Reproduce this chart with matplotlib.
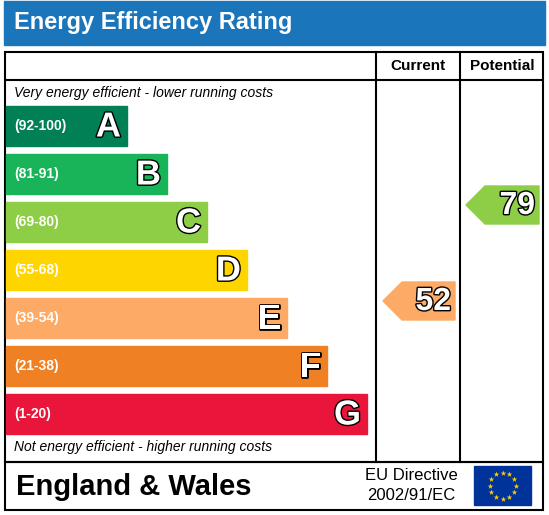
import matplotlib.pyplot as plt
from matplotlib.patches import Rectangle, Polygon
import matplotlib.patheffects as pe
import numpy as np

plt.rcParams['font.family'] = ['Liberation Sans', 'DejaVu Sans']

bandas = ['(92-100)', '(81-91)', '(69-80)', '(55-68)', '(39-54)', '(21-38)', '(1-20)']
letras = ['A', 'B', 'C', 'D', 'E', 'F', 'G']
colores = ['#008054', '#19b459', '#8dce46', '#ffd500', '#fcaa65', '#ef8023', '#e9153b']
largos = [127, 167, 207, 247, 287, 327, 367]
actual = 52
potencial = 79

def fila(valor):
    # indice de la banda segun el valor
    limites = [92, 81, 69, 55, 39, 21, 1]
    for i, l in enumerate(limites):
        if valor >= l:
            return i
    return 6

fig = plt.figure(figsize=(5.49, 5.15), dpi=100)
ax = fig.add_axes([0, 0, 1, 1])
ax.set_xlim(0, 549)
ax.set_ylim(515, 0)
ax.axis('off')

# titulo
ax.add_patch(Rectangle((4, 1), 541, 44, color='#1a75bb'))
ax.text(14, 23, 'Energy Efficiency Rating', color='white', fontsize=17, fontweight='bold', va='center')

# marco
ax.add_patch(Rectangle((5, 52), 538, 410, fill=False, lw=1.5, ec='black'))
ax.add_patch(Rectangle((5, 462), 538, 48, fill=False, lw=1.5, ec='black'))
ax.plot([5, 543], [80, 80], color='black', lw=1.5)
ax.plot([376, 376], [52, 462], color='black', lw=1.5)
ax.plot([460, 460], [52, 462], color='black', lw=1.5)
ax.text(418, 66, 'Current', ha='center', va='center', fontsize=11, fontweight='bold')
ax.text(502, 66, 'Potential', ha='center', va='center', fontsize=11, fontweight='bold')

ax.text(14, 93, 'Very energy efficient - lower running costs', fontsize=10, style='italic', va='center')
ax.text(14, 447, 'Not energy efficient - higher running costs', fontsize=10, style='italic', va='center')

borde = [pe.withStroke(linewidth=2, foreground='black')]
for i in range(7):
    y0 = 106 + i * 48
    ax.add_patch(Rectangle((6, y0), largos[i] - 6, 40, color=colores[i]))
    ax.text(14, y0 + 20, bandas[i], color='white', fontsize=10, fontweight='bold', va='center')
    ax.text(largos[i] - 6, y0 + 21, letras[i], color='white', fontsize=25, fontweight='bold',
            ha='right', va='center', path_effects=borde)

def flecha(x0, x1, valor):
    i = fila(valor)
    y0 = 106 + i * 48 - 16
    y1 = y0 + 38
    ym = (y0 + y1) / 2
    pts = [(x0, ym), (x0 + 19, y0), (x1, y0), (x1, y1), (x0 + 19, y1)]
    ax.add_patch(Polygon(pts, color=colores[i]))
    ax.text(x1 - 4, ym + 1, str(valor), color='white', fontsize=23, fontweight='bold',
            ha='right', va='center', path_effects=borde)

flecha(383, 455, actual)
flecha(466, 539, potencial)

# pie
ax.text(16, 487, 'England & Wales', fontsize=21, fontweight='bold', va='center')
ax.text(411, 476, 'EU Directive', fontsize=12, ha='center', va='center')
ax.text(411, 496, '2002/91/EC', fontsize=12, ha='center', va='center')
ax.add_patch(Rectangle((474, 466), 57, 39, color='#003399'))
ang = np.linspace(0, 2 * np.pi, 13)[:-1]
ax.scatter(502.5 + 13 * np.cos(ang), 485.5 + 13 * np.sin(ang), marker='*', s=18, color='#ffcc00', lw=0)

fig.savefig('out.png', dpi=100)
